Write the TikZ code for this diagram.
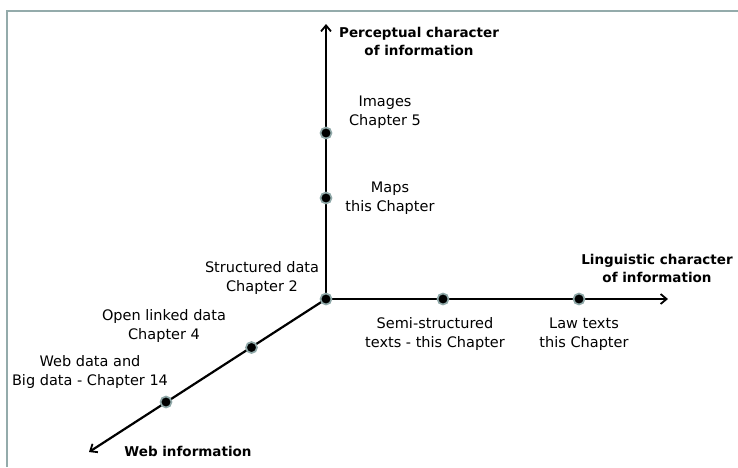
\documentclass[tikz,border=0pt]{standalone}
\usepackage{fontspec}
\setmainfont{DejaVu Sans}
\usetikzlibrary{arrows.meta}
\definecolor{framegray}{HTML}{94ABAB}
\definecolor{ringgray}{HTML}{8FA8A8}
\tikzset{
  axis/.style={line width=2.2pt, draw=black, -{Straight Barb[length=6pt,width=10pt,line width=1.8pt]}},
  dot/.style={circle, fill=black, draw=ringgray, line width=1.7pt, minimum size=11pt, inner sep=0pt},
  lbl/.style={align=center, font=\fontsize{14.5}{18.5}\selectfont, inner sep=0pt},
  title/.style={align=center, font=\fontsize{13.5}{18}\selectfont\bfseries, inner sep=0pt},
}
\begin{document}
\begin{tikzpicture}[x=1pt, y=-1pt]
  \useasboundingbox (0,0) rectangle (738,467);
  % frame along the top and left edges
  \draw[framegray, line width=2pt] (6.5,467) -- (6.5,11) -- (738,11);

  % axes
  \coordinate (o) at (326,299);
  \coordinate (ytip) at (326,24);
  \coordinate (xtip) at (668,299);
  \coordinate (ztip) at (89,452);
  \draw[axis] (o) -- (ytip);
  \draw[axis] (o) -- (xtip);
  \draw[axis] (o) -- (ztip);

  % points on the axes
  \node[dot] (origin) at (o) {};
  \node[dot] (images) at (326,133) {};
  \node[dot] (maps)   at (326,198) {};
  \node[dot] (semi)   at (443,299) {};
  \node[dot] (law)    at (579,299) {};
  \node[dot] (lod)    at (251.5,347.5) {};
  \node[dot] (webd)   at (166,402) {};

  % axis titles
  \node[title] (tperc) at (419,41) {Perceptual character\\of information};
  \node[title] (tling) at (657,268) {Linguistic character\\of information};
  \node[title] (tweb)  at (188,451) {Web information};

  % point labels
  \node[lbl] (limg)   at (385,112) {Images\\Chapter 5};
  \node[lbl] (lmaps)  at (390,198) {Maps\\this Chapter};
  \node[lbl] (lstr)   at (262,278) {Structured data\\Chapter 2};
  \node[lbl] (llod)   at (164,326) {Open linked data\\Chapter 4};
  \node[lbl] (lwebd)  at (90,372)  {Web data and\\Big data - Chapter 14};
  \node[lbl] (lsemi)  at (435,334) {Semi-structured\\texts - this Chapter};
  \node[lbl] (llaw)   at (584,334) {Law texts\\this Chapter};
\end{tikzpicture}
\end{document}
